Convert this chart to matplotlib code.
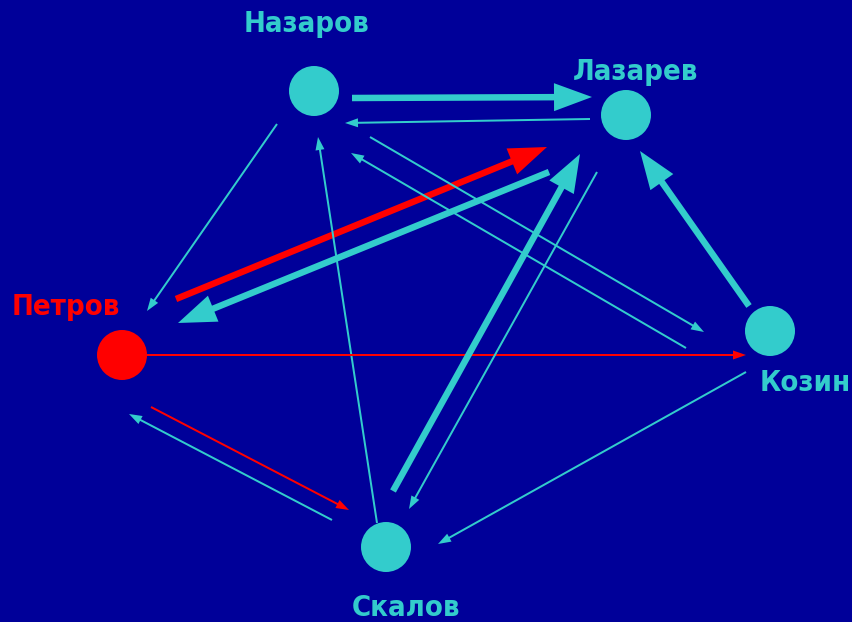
import matplotlib
matplotlib.use("Agg")
import matplotlib.pyplot as plt
from matplotlib.patches import Circle

BG = "#000099"
CYAN = "#33CCCC"
RED = "#FF0000"

# nodes: name, centre (px), colour, label anchor (baseline)
names = ["Назаров", "Лазарев", "Петров", "Козин", "Скалов"]
node_x = [314, 626, 122, 770, 386]
node_y = [91, 115, 355, 331, 547]
node_col = [CYAN, CYAN, RED, CYAN, CYAN]
label_x = [307, 636, 66, 805, 406]
label_y = [32, 80, 315, 391, 616]

# arrows: start -> tip (px), thick flag, colour
arr_x0 = [352, 590, 277, 176, 549, 377, 370, 686, 147, 749, 393, 597, 746, 151, 332]
arr_y0 = [98, 119, 124, 299, 172, 523, 137, 348, 355, 306, 491, 172, 372, 407, 520]
arr_x1 = [592, 345, 147, 547, 178, 318, 704, 351, 746, 640, 580, 409, 438, 349, 129]
arr_y1 = [97, 123, 311, 147, 323, 137, 332, 153, 355, 151, 154, 509, 544, 510, 414]
arr_thick = [1, 0, 0, 1, 1, 0, 0, 0, 0, 1, 1, 0, 0, 0, 0]
arr_col = [CYAN, CYAN, CYAN, RED, CYAN, CYAN, CYAN, CYAN, RED, CYAN, CYAN, CYAN, CYAN, RED, CYAN]

fig = plt.figure(figsize=(8.52, 6.22), dpi=100)
fig.patch.set_facecolor(BG)
ax = fig.add_axes([0, 0, 1, 1])
ax.set_facecolor(BG)
ax.set_xlim(0, 852)
ax.set_ylim(622, 0)
ax.axis("off")

for x0, y0, x1, y1, t, c in zip(arr_x0, arr_y0, arr_x1, arr_y1, arr_thick, arr_col):
    if t:
        w, hw, hl = 6.5, 28, 38
    else:
        w, hw, hl = 2, 9, 13
    ax.arrow(x0, y0, x1 - x0, y1 - y0, width=w, head_width=hw, head_length=hl,
             length_includes_head=True, color=c, lw=0)

for x, y, c in zip(node_x, node_y, node_col):
    ax.add_patch(Circle((x, y), 25, color=c, lw=0))

for n, x, y, c in zip(names, label_x, label_y, node_col):
    ax.text(x, y, n, color=c, fontsize=21, fontweight="bold", family="DejaVu Sans",
            fontstretch="condensed", ha="center", va="baseline")

fig.savefig("out.png", dpi=100, facecolor=BG)
